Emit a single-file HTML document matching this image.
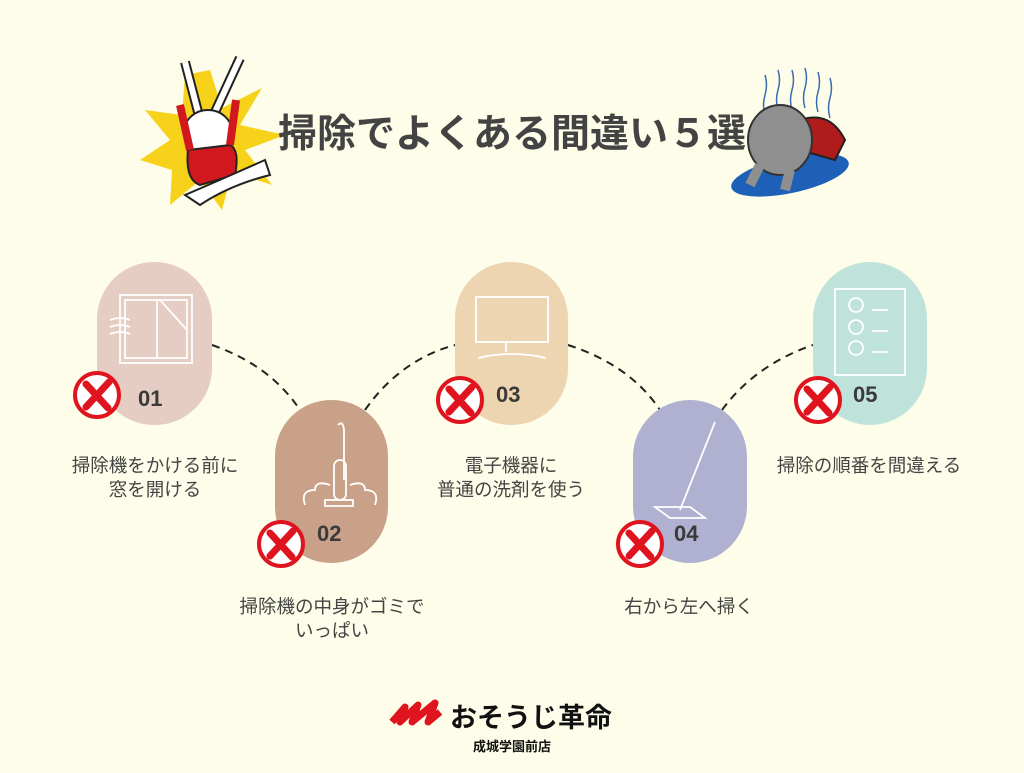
<!DOCTYPE html>
<html><head><meta charset="utf-8"><style>
body{margin:0;width:1024px;height:768px;background:#fdfde9;overflow:hidden;font-family:"Liberation Sans","Noto Sans CJK JP",sans-serif}
</style></head><body>
<svg width="1024" height="768" xmlns="http://www.w3.org/2000/svg" font-family="Liberation Sans, Noto Sans CJK JP, sans-serif">
<rect width="1024" height="768" fill="#fdfde9"/>
<!-- left burst + rabbit -->
<polygon points="210,70 222,108 262,88 240,125 285,135 245,150 272,185 232,172 222,210 200,180 170,205 172,170 140,160 170,140 145,110 182,115 185,75" fill="#f7d21a"/>
<path d="M185 62 L198 112 M240 58 L215 112" stroke="#222" stroke-width="10" fill="none"/>
<path d="M185 62 L198 112 M240 58 L215 112" stroke="#fff" stroke-width="6" fill="none"/>
<ellipse cx="208" cy="132" rx="24" ry="22" fill="#fff" stroke="#222" stroke-width="2"/>
<path d="M188 150 Q185 180 200 185 L235 175 Q240 150 230 145 Z" fill="#d0181e" stroke="#222" stroke-width="2"/>
<path d="M180 105 L190 150 M236 100 L230 145" stroke="#d0181e" stroke-width="8"/>
<path d="M185 195 Q220 180 265 160 L270 175 Q230 185 200 205 Z" fill="#fff" stroke="#222" stroke-width="2"/>
<!-- right character -->
<g stroke="#3a6db0" stroke-width="1.5" fill="none">
<path d="M765 75 q3 10 0 20 q-3 10 0 20"/><path d="M778 70 q3 10 0 20 q-3 10 0 20"/><path d="M792 70 q3 10 0 20 q-3 10 0 20"/><path d="M805 68 q3 10 0 20 q-3 10 0 20"/><path d="M818 72 q3 10 0 20 q-3 10 0 20"/><path d="M830 78 q3 10 0 20 q-3 10 0 20"/>
</g>
<ellipse cx="790" cy="175" rx="60" ry="18" fill="#1e5fb8" transform="rotate(-12 790 175)"/>
<path d="M800 120 Q830 110 845 140 L835 160 L800 150 Z" fill="#b01c1c" stroke="#222" stroke-width="2"/>
<ellipse cx="780" cy="140" rx="32" ry="35" fill="#8f8f8f" stroke="#333" stroke-width="2"/>
<path d="M760 165 L750 185 M790 170 L785 190" stroke="#8f8f8f" stroke-width="10"/>
<!-- title -->
<text x="512" y="147" text-anchor="middle" font-size="39" font-weight="bold" fill="#434343">掃除でよくある間違い５選</text>
<!-- connectors -->
<g stroke="#222" stroke-width="2" stroke-dasharray="8,6" fill="none">
<path d="M212 345 Q270 365 300 410"/>
<path d="M365 410 Q400 360 455 345"/>
<path d="M568 345 Q630 365 660 410"/>
<path d="M722 410 Q755 365 813 345"/>
</g>
<!-- pills -->
<rect x="97" y="262" width="115" height="163" rx="57" fill="#e6cdc3"/>
<rect x="275" y="400" width="113" height="163" rx="56" fill="#c9a189"/>
<rect x="455" y="262" width="113" height="163" rx="56" fill="#eed5b2"/>
<rect x="633" y="400" width="114" height="163" rx="57" fill="#b0b1d1"/>
<rect x="813" y="262" width="114" height="163" rx="57" fill="#bfe3db"/>
<!-- icons -->
<g stroke="#fff" stroke-width="1.8" fill="none">
<rect x="120" y="295" width="72" height="68"/><rect x="125" y="300" width="62" height="58"/><line x1="157" y1="300" x2="157" y2="358"/><line x1="160" y1="300" x2="187" y2="330"/>
<path d="M110 320 q10 -4 20 0 M110 327 q10 -4 20 0 M110 334 q10 -4 20 0"/>
<path d="M338 425 q5 -5 6 5 v50"/><rect x="334" y="460" width="12" height="40" rx="6"/><path d="M325 500 h28 v6 h-28z"/>
<path d="M305 505 q-5 -15 10 -15 q0 -10 15 -5 M375 505 q5 -15 -10 -15 q0 -10 -15 -5"/>
<rect x="476" y="297" width="72" height="45"/><path d="M506 342 v10 M478 358 Q512 350 546 358"/>
<path d="M715 422 L680 510 M655 507 L690 507 L705 518 L670 518 Z"/>
<rect x="835" y="289" width="70" height="86"/>
<circle cx="856" cy="305" r="7"/><circle cx="856" cy="327" r="7"/><circle cx="856" cy="348" r="7"/>
<path d="M872 310 h16 M872 331 h16 M872 352 h16"/>
</g>
<!-- X marks -->
<g>
<g transform="translate(97,395)"><circle r="22" fill="#fff" stroke="#e0141e" stroke-width="4"/><path d="M-11 -11 L11 13 M12 -13 L-11 12" stroke="#e0141e" stroke-width="7" stroke-linecap="round"/></g>
<g transform="translate(281,544)"><circle r="22" fill="#fff" stroke="#e0141e" stroke-width="4"/><path d="M-11 -11 L11 13 M12 -13 L-11 12" stroke="#e0141e" stroke-width="7" stroke-linecap="round"/></g>
<g transform="translate(460,400)"><circle r="22" fill="#fff" stroke="#e0141e" stroke-width="4"/><path d="M-11 -11 L11 13 M12 -13 L-11 12" stroke="#e0141e" stroke-width="7" stroke-linecap="round"/></g>
<g transform="translate(640,544)"><circle r="22" fill="#fff" stroke="#e0141e" stroke-width="4"/><path d="M-11 -11 L11 13 M12 -13 L-11 12" stroke="#e0141e" stroke-width="7" stroke-linecap="round"/></g>
<g transform="translate(818,400)"><circle r="22" fill="#fff" stroke="#e0141e" stroke-width="4"/><path d="M-11 -11 L11 13 M12 -13 L-11 12" stroke="#e0141e" stroke-width="7" stroke-linecap="round"/></g>
</g>
<g font-size="22" font-weight="bold" fill="#3a3a3a">
<text x="138" y="406">01</text><text x="317" y="541">02</text><text x="496" y="402">03</text><text x="674" y="541">04</text><text x="853" y="402">05</text>
</g>
<g font-size="18.5" fill="#444" text-anchor="middle">
<text x="155" y="472">掃除機をかける前に</text><text x="155" y="496">窓を開ける</text>
<text x="332" y="613">掃除機の中身がゴミで</text><text x="332" y="637">いっぱい</text>
<text x="511" y="472">電子機器に</text><text x="511" y="496">普通の洗剤を使う</text>
<text x="689" y="613">右から左へ掃く</text>
<text x="869" y="472">掃除の順番を間違える</text>
</g>
<!-- logo -->
<path d="M392 722 L405 707 L400 722 L418 705 L412 722 L435 703 L428 722 L440 712" stroke="#e0141e" stroke-width="7" fill="none" stroke-linejoin="round"/>
<text x="450" y="727" font-size="27" font-weight="bold" fill="#111">おそうじ革命</text>
<text x="512" y="751" text-anchor="middle" font-size="13" font-weight="bold" fill="#111">成城学園前店</text>
</svg>
</body></html>
